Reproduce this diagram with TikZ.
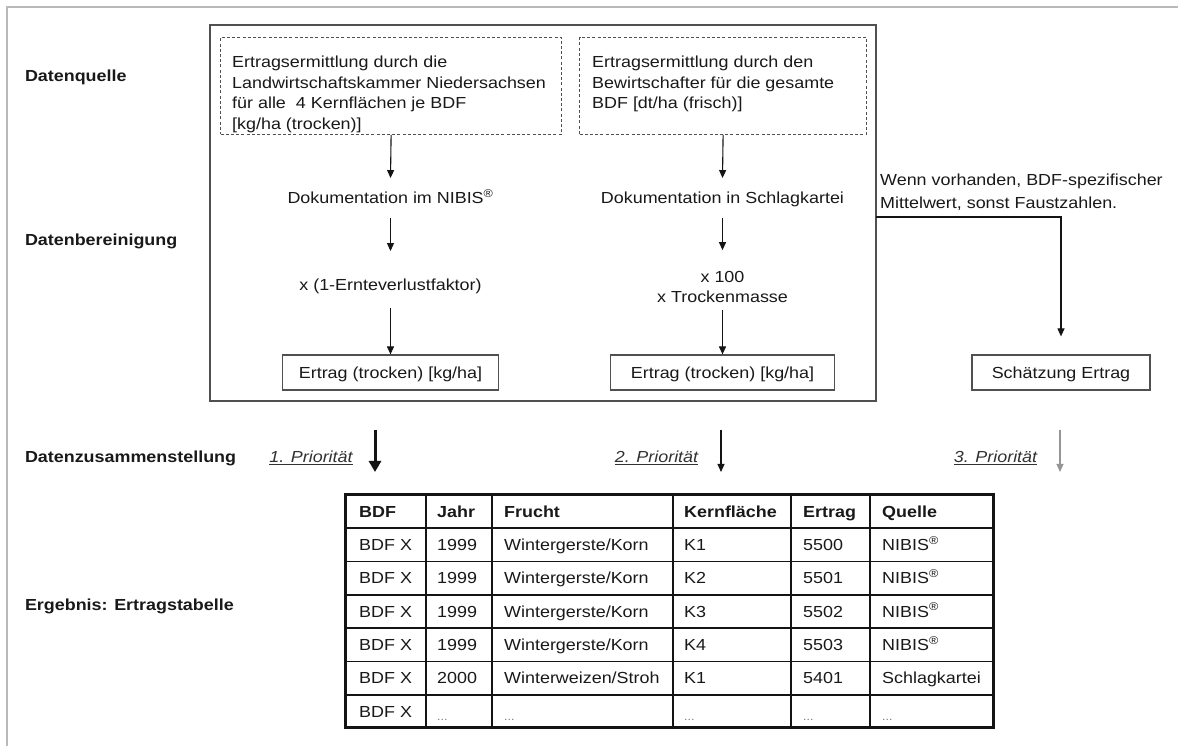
\documentclass[tikz,border=0pt]{standalone}
\usepackage{fontspec}
\setmainfont{Liberation Sans}[FakeStretch=1.12]
\usetikzlibrary{arrows.meta}

\newcommand\nibis{NIBIS\textsuperscript{®}}
\newcommand\wgk{Wintergerste/Korn}
\newcommand\wws{Winterweizen/Stroh}

\begin{document}
\begin{tikzpicture}[x=1pt,y=1pt,
  font=\fontsize{16}{20.5}\selectfont,
  flow/.style={draw=drawColor,line width=1.1pt,-{Triangle[length=8pt,width=7pt]}},
  rowlabel/.style={text=textColor,anchor=west,inner sep=0pt,outer sep=0pt,text height=11.5pt,text depth=0pt,font=\fontsize{16}{20.5}\selectfont\bfseries},
  srcbox/.style={draw=boxColor,dash pattern=on 3pt off 2.2pt,line width=1.2pt,anchor=south west,inner sep=0pt},
  srctext/.style={text=textColor,anchor=north west,align=left,inner sep=0pt},
  calc/.style={text=textColor,inner xsep=0pt,text height=11.5pt,text depth=0pt},
  resultbox/.style={draw=boxColor,line width=1.2pt,minimum height=35pt,inner sep=0pt,text=textColor,text height=11.5pt,text depth=0pt},
  prio/.style={text=prioColor,inner sep=0pt,text height=11.5pt,text depth=0pt,font=\fontsize{16}{20.5}\selectfont\itshape},
  cell/.style={text=textColor,anchor=west,inner sep=0pt,text height=11.5pt,text depth=0pt},
  head/.style={cell,font=\fontsize{16}{20.5}\selectfont\bfseries}
]
\definecolor{frameColor}{RGB}{185,185,185}
\definecolor{boxColor}{RGB}{80,80,80}
\definecolor{drawColor}{RGB}{20,20,20}
\definecolor{textColor}{RGB}{25,25,25}
\definecolor{prioColor}{RGB}{50,50,50}
\definecolor{lowColor}{RGB}{150,150,150}
\definecolor{dotColor}{RGB}{120,120,120}

\useasboundingbox (0,0) rectangle (1178,746);
\path[fill=white] (0,0) rectangle (1178,746);

% outer frame
\path[draw=frameColor,line width=2pt] (1178,739) -- (7,739) -- (7,0);

% row labels
\node[rowlabel] (lquelle) at (25,670) {Datenquelle};
\node[rowlabel] (lbereinig) at (25,506) {Datenbereinigung};
\node[rowlabel] (lzusamm) at (25,289) {Datenzusammenstellung};
\node[rowlabel] (lergebnis) at (25,141) {Ergebnis: Ertragstabelle};

% measured yields
\path[draw=boxColor,line width=1.3pt] (210,345) rectangle (876,721);

\node[srcbox,minimum width=341pt,minimum height=97pt] (q1) at (220,611) {};
\node[srctext] (q1txt) at (232,690) {Ertragsermittlung durch die\\Landwirtschaftskammer Niedersachsen\\für alle\ \ 4 Kernflächen je BDF\\{[}kg/ha (trocken)]};

\node[srcbox,minimum width=287pt,minimum height=97pt] (q2) at (579,611) {};
\node[srctext] (q2txt) at (592,690) {Ertragsermittlung durch den\\Bewirtschafter für die gesamte\\BDF [dt/ha (frisch)]};

\node[calc,inner ysep=14pt] (doc1) at (390.5,548) {Dokumentation im \nibis};
\node[calc,inner ysep=17pt] (fak1) at (390.5,461) {x (1-Ernteverlustfaktor)};
\node[resultbox,minimum width=216pt] (ert1) at (390.5,373.5) {Ertrag (trocken) [kg/ha]};

\node[calc,inner ysep=14pt] (doc2) at (722.5,548) {Dokumentation in Schlagkartei};
\node[text=textColor,align=center,inner xsep=0pt,inner ysep=12pt] (fak2) at (722.5,458.75) {x 100\\x Trockenmasse};
\node[resultbox,minimum width=224pt] (ert2) at (722.5,373.5) {Ertrag (trocken) [kg/ha]};

\draw[flow] (q1.south) -- (doc1.north);
\draw[flow] (doc1.south) -- ([yshift=11pt]fak1.north);
\draw[flow] (fak1.south) -- (ert1.north);
\draw[flow] (q2.south) -- (doc2.north);
\draw[flow] (doc2.south) -- ([yshift=9pt]fak2.north);
\draw[flow] ([yshift=5pt]fak2.south) -- (ert2.north);

% estimate
\node[srctext] (hint) at (880,572) {Wenn vorhanden, BDF-spezifischer\\[2pt]Mittelwert, sonst Faustzahlen.};
\node[resultbox,minimum width=178pt] (est) at (1061,373.5) {Schätzung Ertrag};
\coordinate (split) at (876,529);
\draw[flow,shorten >=18pt] (split) -| (est.north);

% priorities
\node[prio] (prio1) at (311,289) {\underline{1. Priorität}};
\node[prio] (prio2) at (656.5,289) {\underline{2. Priorität}};
\node[prio] (prio3) at (995.5,289) {\underline{3. Priorität}};

\coordinate (p1a) at (375,316);
\coordinate (p1b) at (375,274);
\coordinate (p2a) at (721,316);
\coordinate (p2b) at (721,274);
\coordinate (p3a) at (1060,316);
\coordinate (p3b) at (1060,274);
\draw[draw=drawColor,line width=3pt,-{Triangle[length=11pt,width=12pt]}] (p1a) -- (p1b);
\draw[flow] (p2a) -- (p2b);
\draw[flow,draw=lowColor,fill=lowColor] (p3a) -- (p3b);

% result table
\foreach \x in {426,492,673,791,870}
  \path[draw=drawColor,line width=1.6pt] (\x,18) -- (\x,251);
\foreach \k in {1,...,6}
  \path[draw=drawColor,line width=1.6pt] (345,251-33.29*\k) -- (993,251-33.29*\k);
\path[draw=drawColor,line width=3pt] (345,18) rectangle (993,251);

\node[head] (h-1) at (359,234.36) {BDF};
\node[head] (h-2) at (437,234.36) {Jahr};
\node[head] (h-3) at (504,234.36) {Frucht};
\node[head] (h-4) at (684,234.36) {Kernfläche};
\node[head] (h-5) at (803,234.36) {Ertrag};
\node[head] (h-6) at (882,234.36) {Quelle};

\foreach \r/\jahr/\frucht/\kern/\ertrag/\quelle in {1/1999/\wgk/K1/5500/\nibis,2/1999/\wgk/K2/5501/\nibis,3/1999/\wgk/K3/5502/\nibis,4/1999/\wgk/K4/5503/\nibis,5/2000/\wws/K1/5401/Schlagkartei}{
  \pgfmathsetmacro\yy{251-33.29*(\r+0.5)}
  \node[cell] (c-\r-1) at (359,\yy) {BDF X};
  \node[cell] (c-\r-2) at (437,\yy) {\jahr};
  \node[cell] (c-\r-3) at (504,\yy) {\frucht};
  \node[cell] (c-\r-4) at (684,\yy) {\kern};
  \node[cell] (c-\r-5) at (803,\yy) {\ertrag};
  \node[cell] (c-\r-6) at (882,\yy) {\quelle};
}
\node[cell] (c-6-1) at (359,34.6) {BDF X};
\foreach \c/\x in {2/437,3/504,4/684,5/803,6/882}
  \node[cell,text=dotColor,font=\fontsize{11}{12}\selectfont] (c-6-\c) at (\x,31) {...};
\end{tikzpicture}
\end{document}
